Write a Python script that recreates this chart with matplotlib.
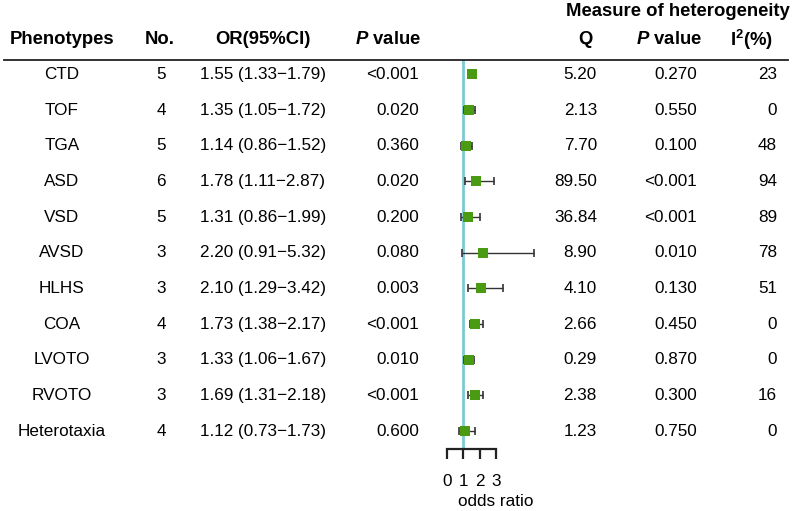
import matplotlib
matplotlib.use("Agg")
import matplotlib.pyplot as plt
import numpy as np

plt.rcParams['font.family'] = ['Liberation Sans', 'DejaVu Sans']
plt.rcParams['mathtext.fontset'] = 'custom'
plt.rcParams['mathtext.bfit'] = 'Liberation Sans:bold:italic'
plt.rcParams['mathtext.bf'] = 'Liberation Sans:bold'
plt.rcParams['mathtext.rm'] = 'Liberation Sans'

phenotypes = ["CTD", "TOF", "TGA", "ASD", "VSD", "AVSD", "HLHS", "COA", "LVOTO", "RVOTO", "Heterotaxia"]
n_studies = [5, 4, 5, 6, 5, 3, 3, 4, 3, 3, 4]
or_val = [1.55, 1.35, 1.14, 1.78, 1.31, 2.20, 2.10, 1.73, 1.33, 1.69, 1.12]
ci_low = [1.33, 1.05, 0.86, 1.11, 0.86, 0.91, 1.29, 1.38, 1.06, 1.31, 0.73]
ci_high = [1.79, 1.72, 1.52, 2.87, 1.99, 5.32, 3.42, 2.17, 1.67, 2.18, 1.73]
p_value = ["<0.001", "0.020", "0.360", "0.020", "0.200", "0.080", "0.003", "<0.001", "0.010", "<0.001", "0.600"]
q_stat = ["5.20", "2.13", "7.70", "89.50", "36.84", "8.90", "4.10", "2.66", "0.29", "2.38", "1.23"]
p_het = ["0.270", "0.550", "0.100", "<0.001", "<0.001", "0.010", "0.130", "0.450", "0.870", "0.300", "0.750"]
i2 = [23, 0, 48, 94, 89, 78, 51, 0, 0, 16, 0]
or_ticks = [0, 1, 2, 3]

W, H = 797, 511
fig = plt.figure(figsize=(W / 100, H / 100), dpi=100)

def fx(x):
    return x / W

def fy(y):
    return 1 - y / H

row0, dy = 74.5, 35.65
fs = 12.3
hfs = 13.3

# Headers
fig.text(fx(678), fy(12), "Measure of heterogeneity", ha='center', va='center', fontsize=hfs, fontweight='bold')
hy = 40
fig.text(fx(62), fy(hy), "Phenotypes", ha='center', va='center', fontsize=hfs, fontweight='bold')
fig.text(fx(160), fy(hy), "No.", ha='center', va='center', fontsize=hfs, fontweight='bold')
fig.text(fx(263), fy(hy), "OR(95%CI)", ha='center', va='center', fontsize=hfs, fontweight='bold')
fig.text(fx(388), fy(hy), r"$\bfit{P}$ value", ha='center', va='center', fontsize=hfs, fontweight='bold')
fig.text(fx(585), fy(hy), "Q", ha='center', va='center', fontsize=hfs, fontweight='bold')
fig.text(fx(669), fy(hy), r"$\bfit{P}$ value", ha='center', va='center', fontsize=hfs, fontweight='bold')
fig.text(fx(751), fy(hy), r"I$^\mathbf{2}$(%)", ha='center', va='center', fontsize=hfs, fontweight='bold')

# header rule
fig.add_artist(plt.Line2D([fx(4), fx(788)], [fy(60), fy(60)], color='#222222', lw=1.3))

for i in range(len(phenotypes)):
    y = fy(row0 + dy * i)
    fig.text(fx(62), y, phenotypes[i], ha='center', va='center', fontsize=fs)
    fig.text(fx(161), y, str(n_studies[i]), ha='center', va='center', fontsize=fs)
    fig.text(fx(263), y, f"{or_val[i]:.2f} ({ci_low[i]:.2f}\u2212{ci_high[i]:.2f})", ha='center', va='center', fontsize=fs)
    fig.text(fx(419), y, p_value[i], ha='right', va='center', fontsize=fs)
    fig.text(fx(597), y, q_stat[i], ha='right', va='center', fontsize=fs)
    fig.text(fx(697), y, p_het[i], ha='right', va='center', fontsize=fs)
    fig.text(fx(777), y, str(i2[i]), ha='right', va='center', fontsize=fs)

# Forest axes
scale = 16.45
x0 = 446.9
left_px, right_px = 420, 560
top_px, bot_px = 60, 449
ax = fig.add_axes([fx(left_px), fy(bot_px), (right_px - left_px) / W, (bot_px - top_px) / H])
ax.set_xlim((left_px - x0) / scale, (right_px - x0) / scale)
ax.set_ylim((bot_px - row0) / dy, (top_px - row0) / dy)
ax.patch.set_alpha(0)

rows = np.arange(len(phenotypes))
ax.axvline(1, color='#7CCAD4', lw=2.0, zorder=1)
err = [np.array(or_val) - np.array(ci_low), np.array(ci_high) - np.array(or_val)]
ax.errorbar(or_val, rows, xerr=err, fmt='none', ecolor='#333333', elinewidth=1.0,
            capsize=2.8, capthick=1.2, zorder=2)
ax.plot(or_val, rows, 's', color='#4A9A12', markersize=6.5, zorder=3, markeredgewidth=0)

for s in ['top', 'right', 'left']:
    ax.spines[s].set_visible(False)
ax.spines['bottom'].set_bounds(0, 3)
ax.spines['bottom'].set_linewidth(1.6)
ax.spines['bottom'].set_color('#222222')
ax.set_yticks([])
ax.set_xticks(or_ticks)
ax.set_xticklabels([str(t) for t in or_ticks])
ax.tick_params(axis='x', direction='out', length=7, width=1.6, color='#222222',
               labelsize=fs, pad=11)

fig.text(fx(496), fy(501), "odds ratio", ha='center', va='center', fontsize=fs)

fig.savefig("out.png", dpi=100)
